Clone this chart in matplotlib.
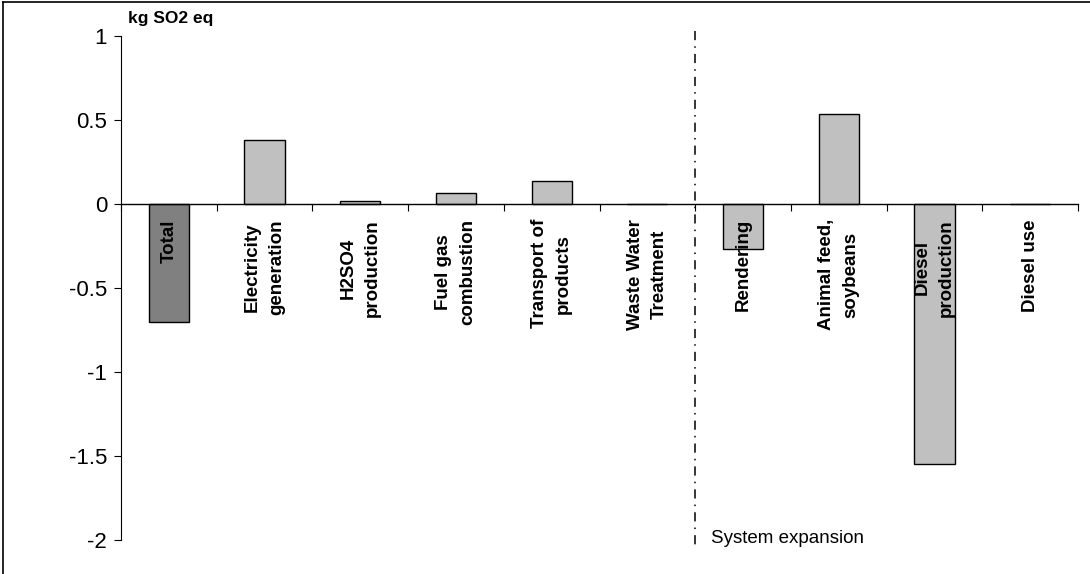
import numpy as np
import matplotlib.pyplot as plt
from matplotlib.lines import Line2D

plt.rcParams['font.family'] = ['Liberation Sans', 'DejaVu Sans']

# data
categories = ["Total", "Electricity\ngeneration", "H2SO4\nproduction", "Fuel gas\ncombustion",
              "Transport of\nproducts", "Waste Water\nTreatment", "Rendering",
              "Animal feed,\nsoybeans", "Diesel\nproduction", "Diesel use"]
values = [-0.70, 0.38, 0.02, 0.065, 0.135, 0.0, -0.27, 0.535, -1.55, 0.0]
yticks = [1, 0.5, 0, -0.5, -1, -1.5, -2]
ytick_labels = ["1", "0.5", "0", "-0.5", "-1", "-1.5", "-2"]

W, H = 1090, 574
fig = plt.figure(figsize=(W / 100, H / 100), dpi=100)
ax = fig.add_axes([121 / W, (H - 540) / H, (1078 - 121) / W, (540 - 36) / H])

x = np.arange(len(categories)) + 0.5
colors = ["#808080"] + ["#c0c0c0"] * (len(categories) - 1)
ax.bar(x, values, width=0.42, color=colors, edgecolor="black", linewidth=1.0, zorder=2)

ax.set_xlim(0, len(categories))
ax.set_ylim(-2, 1)
ax.set_yticks(yticks)
ax.set_yticklabels(ytick_labels, fontsize=16)
ax.set_xticks(np.arange(len(categories) + 1))
ax.set_xticklabels([])
ax.tick_params(axis="y", direction="out", length=5, width=0.8, pad=5)
ax.tick_params(axis="x", direction="out", length=5, width=0.8)

ax.spines["top"].set_visible(False)
ax.spines["right"].set_visible(False)
ax.spines["bottom"].set_position(("data", 0))
ax.spines["left"].set_linewidth(0.8)
ax.spines["bottom"].set_linewidth(1.0)

for xi, lab in zip(x, categories):
    ax.text(xi, -0.09, lab, rotation=90, ha="center", va="top", fontsize=13.5,
            fontweight="bold", multialignment="center", linespacing=1.55, zorder=3)

# system boundary
ax.plot([6, 6], [1.03, -2.06], color="black", linewidth=1.1,
        linestyle=(0, (6, 4, 1, 4)), clip_on=False, zorder=1)
ax.text(6.17, -1.99, "System expansion", fontsize=13.5, ha="left", va="center")

fig.text(128 / W, 1 - 19 / H, "kg SO2 eq", fontsize=12.5, fontweight="bold",
         ha="left", va="center")

# frame around the chart area
fig.add_artist(Line2D([3 / W, 3 / W], [0, 1 - 1.5 / H], color="black", linewidth=1.2,
                      transform=fig.transFigure))
fig.add_artist(Line2D([3 / W, 1], [1 - 1.5 / H, 1 - 1.5 / H], color="black", linewidth=1.2,
                      transform=fig.transFigure))

fig.savefig("out.png", dpi=100)
